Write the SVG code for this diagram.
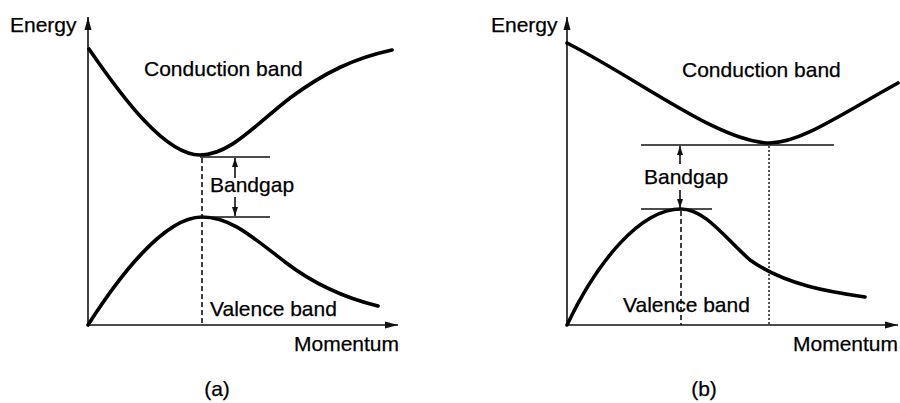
<svg xmlns="http://www.w3.org/2000/svg" width="900" height="403" viewBox="0 0 900 403">
<style>
text{font-family:"Liberation Sans",Arial,sans-serif;font-size:21px;fill:#000;stroke:#000;stroke-width:0.25}
.axis{stroke:#111;stroke-width:1.6;fill:none}
.band{stroke:#000;stroke-width:3.6;fill:none;stroke-linecap:round}
.tick{stroke:#111;stroke-width:1.6;fill:none}
.gap{stroke:#111;stroke-width:1.6;fill:none}
.dash{stroke:#111;stroke-width:1.6;fill:none;stroke-dasharray:5,3}
.dot{stroke:#111;stroke-width:1.4;fill:none;stroke-dasharray:2,2}
</style>
<defs>
<marker id="ax" markerWidth="14" markerHeight="10" refX="13" refY="5" orient="auto" markerUnits="userSpaceOnUse">
<path d="M0,1.5 L13,5 L0,8.5 Z" fill="#111"/>
</marker>
<marker id="sm" markerWidth="10" markerHeight="8" refX="9" refY="4" orient="auto" markerUnits="userSpaceOnUse">
<path d="M0,1 L9,4 L0,7 Z" fill="#111"/>
</marker>
</defs>
<rect width="900" height="403" fill="#fff"/>

<g id="panel-a">
<g id="axes-a">
<line class="axis" x1="88" y1="326" x2="88" y2="17" marker-end="url(#ax)"/>
<line class="axis" x1="88" y1="325" x2="398" y2="325" marker-end="url(#ax)"/>
<text x="10" y="32">Energy</text>
<text x="399" y="351" text-anchor="end">Momentum</text>
</g>
<g id="conduction-a">
<path class="band" d="M89,49 C122,97 165,155 200,155 C230,155 255,125 290,98 C325,72 355,58 392,50"/>
<text x="144" y="76">Conduction band</text>
</g>
<g id="valence-a">
<path class="band" d="M88,325 C120,275 165,217 202,217 C230,217 250,235 285,262 C315,285 345,298 378,306"/>
<text x="210" y="316">Valence band</text>
</g>
<g id="bandgap-a">
<line class="tick" x1="200" y1="157" x2="270" y2="157"/>
<line class="tick" x1="200" y1="217" x2="270" y2="217"/>
<line class="gap" x1="235" y1="178" x2="235" y2="158" marker-end="url(#sm)"/>
<line class="gap" x1="235" y1="197" x2="235" y2="216" marker-end="url(#sm)"/>
<line class="dash" x1="202" y1="158" x2="202" y2="325"/>
<text x="210" y="192">Bandgap</text>
</g>
<text x="217" y="396" text-anchor="middle">(a)</text>
</g>

<g id="panel-b">
<g id="axes-b">
<line class="axis" x1="567" y1="326" x2="567" y2="17" marker-end="url(#ax)"/>
<line class="axis" x1="567" y1="325" x2="898" y2="325" marker-end="url(#ax)"/>
<text x="491" y="32">Energy</text>
<text x="898" y="351" text-anchor="end">Momentum</text>
</g>
<g id="conduction-b">
<path class="band" d="M567,43 C640,80 720,143 770,143 C800,143 840,115 898,83"/>
<text x="682" y="77">Conduction band</text>
</g>
<g id="valence-b">
<path class="band" d="M567,325 C597,262 640,209 681,209 C705,209 725,238 750,260 C785,285 830,292 865,297"/>
<text x="623" y="312">Valence band</text>
</g>
<g id="bandgap-b">
<line class="tick" x1="641" y1="145" x2="834" y2="145"/>
<line class="tick" x1="641" y1="209" x2="712" y2="209"/>
<line class="gap" x1="680" y1="164" x2="680" y2="146" marker-end="url(#sm)"/>
<line class="gap" x1="680" y1="190" x2="680" y2="208" marker-end="url(#sm)"/>
<line class="dash" x1="681" y1="211" x2="681" y2="325"/>
<line class="dot" x1="769" y1="146" x2="769" y2="325"/>
<text x="644" y="184">Bandgap</text>
</g>
<text x="704" y="396" text-anchor="middle">(b)</text>
</g>
</svg>
